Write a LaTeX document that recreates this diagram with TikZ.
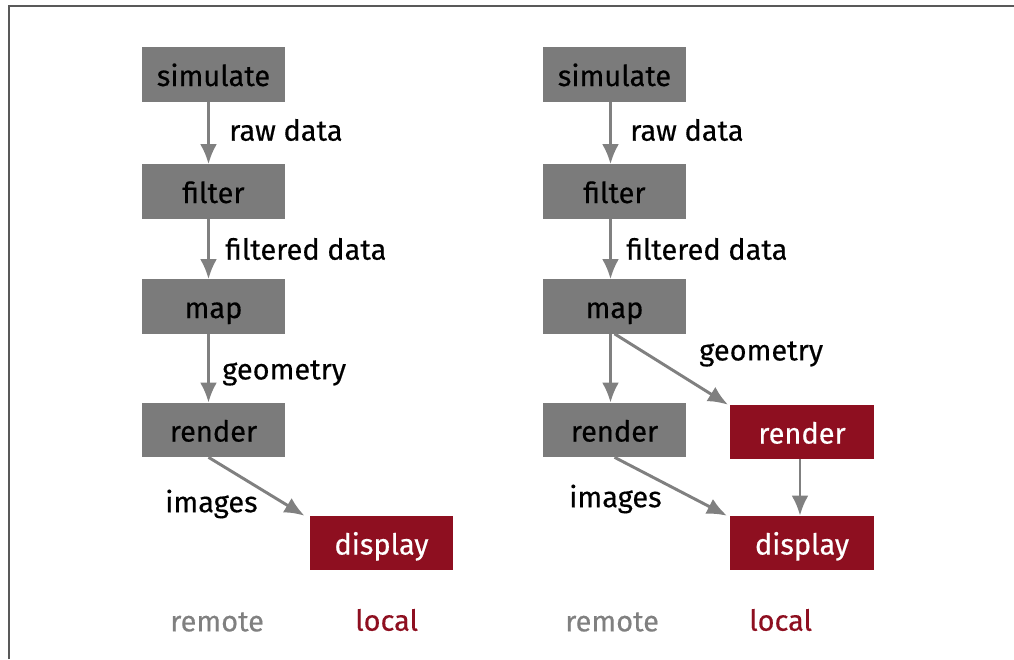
\documentclass[tikz,border=0pt]{standalone}
\usepackage{fontspec}
\setmainfont[FakeBold=0.4]{Fira Sans}
\usetikzlibrary{positioning, arrows.meta}
\definecolor{boxgray}{HTML}{7B7B7B}
\definecolor{boxred}{HTML}{8E0F20}
\definecolor{linegray}{HTML}{808080}
\tikzset{
  stage/.style={fill=boxgray, text=black, minimum width=3.575cm, minimum height=1.35cm, inner sep=0pt,
    text height=16.4pt, text depth=0pt},
  localstage/.style={stage, fill=boxred, text=white},
  flow/.style={draw=linegray, line width=2.1pt, -{Latex[length=0.5cm, width=0.42cm]}},
  lbl/.style={anchor=west, inner sep=0pt, text=black},
}

\begin{document}
\begin{tikzpicture}[x=0.025cm, y=-0.025cm, font=\fontsize{20.6}{24}\selectfont]
  \useasboundingbox (0,0) rectangle (1014,659);
  \draw[line width=1.4pt, black!65] (9,659) -- (9,6) -- (1014,6);

  % remote only
  \node[stage] (simA) at (213.5,74.5) {simulate};
  \node[stage] (filA) at (213.5,191.5) {filter};
  \node[stage] (mapA) at (213.5,306.5) {map};
  \node[stage] (renA) at (213.5,430) {render};
  \node[localstage] (disA) at (381.5,543) {display};

  \draw[flow] ([xshift=-0.125cm]simA.south) -- ([xshift=-0.125cm]filA.north);
  \draw[flow] ([xshift=-0.125cm]filA.south) -- ([xshift=-0.125cm]mapA.north);
  \draw[flow] ([xshift=-0.125cm]mapA.south) -- ([xshift=-0.125cm]renA.north);
  \draw[flow] ([xshift=-0.125cm]renA.south) -- ([xshift=-1.925cm]disA.north);

  \node[lbl] (rawA) at (229,130) {raw data};
  \node[lbl] (ftdA) at (225,249) {filtered data};
  \node[lbl] (geoA) at (222,373) {geometry};
  \node[lbl] (imgA) at (165,504) {images};
  \node[lbl, text=linegray] (remA) at (170,622) {remote};
  \node[lbl, text=boxred] (locA) at (355,620) {local};

  % local rendering
  \node[stage] (simB) at (614.5,74.5) {simulate};
  \node[stage] (filB) at (614.5,191.5) {filter};
  \node[stage] (mapB) at (614.5,306.5) {map};
  \node[stage] (renB) at (614.5,430) {render};
  \node[localstage] (renC) at (802,432) {render};
  \node[localstage] (disB) at (802,543) {display};

  \draw[flow] ([xshift=-0.1cm]simB.south) -- ([xshift=-0.1cm]filB.north);
  \draw[flow] ([xshift=-0.1cm]filB.south) -- ([xshift=-0.1cm]mapB.north);
  \draw[flow] ([xshift=-0.1cm]mapB.south) -- ([xshift=-0.1cm]renB.north);
  \draw[flow] (mapB.south) -- ([xshift=-1.85cm]renC.north);
  \draw[flow] ([xshift=-0.05cm]renC.south) -- ([xshift=-0.05cm]disB.north);
  \draw[flow] (renB.south) -- ([xshift=-1.875cm]disB.north);

  \node[lbl] (rawB) at (630,130) {raw data};
  \node[lbl] (ftdB) at (626,249) {filtered data};
  \node[lbl] (geoB) at (699,354) {geometry};
  \node[lbl] (imgB) at (569,499) {images};
  \node[lbl, text=linegray] (remB) at (565,622) {remote};
  \node[lbl, text=boxred] (locB) at (749,620) {local};
\end{tikzpicture}
\end{document}
